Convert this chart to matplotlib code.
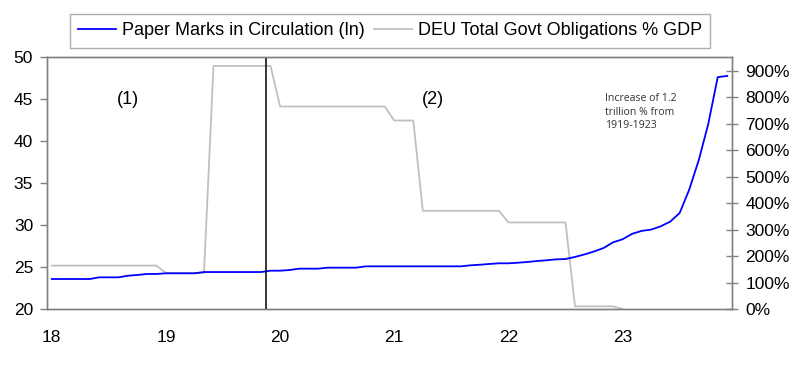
import matplotlib
matplotlib.use("Agg")
import matplotlib.pyplot as plt
import numpy as np

# Monthly data, Jan 1918 .. Dec 1923
year_labels = ["18", "19", "20", "21", "22", "23"]

paper_marks_ln = [
    23.57, 23.57, 23.57, 23.57, 23.57, 23.77, 23.77, 23.77, 23.96, 24.05, 24.17, 24.17,
    24.25, 24.25, 24.25, 24.25, 24.40, 24.40, 24.40, 24.40, 24.40, 24.40, 24.40, 24.56,
    24.56, 24.64, 24.80, 24.80, 24.80, 24.92, 24.92, 24.92, 24.92, 25.08, 25.08, 25.08,
    25.08, 25.08, 25.08, 25.08, 25.08, 25.08, 25.08, 25.08, 25.20, 25.27, 25.36, 25.44,
    25.44, 25.51, 25.60, 25.71, 25.80, 25.91, 25.95, 26.20, 26.50, 26.85, 27.26, 27.94,
    28.30, 28.95, 29.30, 29.45, 29.84, 30.40, 31.43, 34.20, 37.70, 42.00, 47.60, 47.75,
]

govt_obligations_pct = [
    164, 164, 164, 164, 164, 164, 164, 164, 164, 164, 164, 164,
    136, 136, 136, 136, 136, 918, 918, 918, 918, 918, 918, 918,
    765, 765, 765, 765, 765, 765, 765, 765, 765, 765, 765, 765,
    712, 712, 712, 371, 371, 371, 371, 371, 371, 371, 371, 371,
    327, 327, 327, 327, 327, 327, 327, 10, 10, 10, 10, 10,
    0, np.nan, np.nan, np.nan, np.nan, np.nan, np.nan, np.nan, np.nan, np.nan, np.nan, np.nan,
]

marker_month = 22.55  # vertical line position (late 1919)

plt.rcParams['font.family'] = ['Liberation Sans', 'DejaVu Sans']

fig = plt.figure(figsize=(8, 3.66), dpi=100)
ax = fig.add_axes([47/800, 1 - 309/366, (732-47)/800, (309-57)/366])
ax2 = ax.twinx()
ax.set_zorder(ax2.get_zorder() + 1)
ax.patch.set_visible(False)

x = np.arange(len(paper_marks_ln))
l1, = ax.plot(x, paper_marks_ln, color='#0000FF', lw=1.3,
              label='Paper Marks in Circulation (ln)')
l2, = ax2.plot(x, govt_obligations_pct, color='#C0C0C0', lw=1.3,
               label='DEU Total Govt Obligations % GDP')

ax.axvline(marker_month, color='#000000', lw=1.1)

ax.set_xlim(-0.5, 71.5)
ax.set_ylim(20, 50)
ax2.set_ylim(0, 952)

ax.set_xticks(np.arange(0, 72, 12))
ax.set_xticklabels(year_labels)
ax.set_yticks([20, 25, 30, 35, 40, 45, 50])
ax2.set_yticks(np.arange(0, 1000, 100))
ax2.set_yticklabels([f"{v}%" for v in range(0, 1000, 100)])

spine_color = '#808080'
for a in (ax, ax2):
    for s in a.spines.values():
        s.set_color(spine_color)
        s.set_linewidth(1.0)

ax.tick_params(axis='x', length=0, pad=15, labelsize=12.5)
ax.tick_params(axis='y', length=5, width=1, color=spine_color, pad=5, labelsize=12.5, direction='out')
ax2.tick_params(axis='y', length=9, width=1, color=spine_color, pad=5, labelsize=12.5, direction='inout')

ax.text(8, 44.9, "(1)", fontsize=13, ha='center', va='center')
ax.text(40.1, 44.9, "(2)", fontsize=13, ha='center', va='center')
ax.text(58.2, 45.7, "Increase of 1.2\ntrillion % from\n1919-1923", fontsize=7.6, family='Open Sans',
        color='#333333', ha='left', va='top', linespacing=1.3)

leg = fig.legend(handles=[l1, l2], loc='upper center', bbox_to_anchor=(0.4873, 0.961),
                 ncol=2, fontsize=13, frameon=True, fancybox=False, handlelength=2.1,
                 handletextpad=0.35, columnspacing=0.5, borderpad=0.45, borderaxespad=0)
leg.get_frame().set_edgecolor('#999999')
leg.get_frame().set_linewidth(1.0)

fig.savefig("out.png", dpi=100)
